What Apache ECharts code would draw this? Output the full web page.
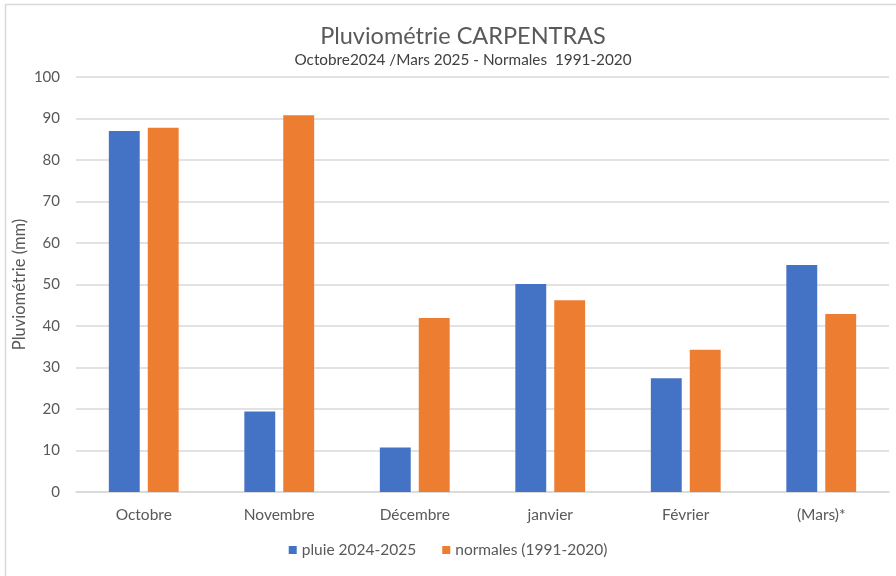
<!DOCTYPE html>
<html><head><meta charset="utf-8">
<script src="https://cdn.jsdelivr.net/npm/echarts@6/dist/echarts.min.js"></script>
<style>html,body{margin:0;padding:0;background:#fff}#c{width:896px;height:576px}</style>
</head><body><div id="c"></div>
<script>
const categories = ['Octobre','Novembre','Décembre','janvier','Février','(Mars)*'];
const pluie = [87.0, 19.4, 10.7, 50.1, 27.4, 54.7];
const normales = [87.8, 90.8, 41.9, 46.2, 34.3, 42.9];
const yTicks = {min: 0, max: 100, interval: 10};
const FONT = 'Lato, "Open Sans", sans-serif';
const chart = echarts.init(document.getElementById('c'));
chart.setOption({
  animation: false,
  backgroundColor: '#fff',
  textStyle: {fontFamily: FONT, color: '#595959'},
  graphic: [{type: 'rect', shape: {x: 5.5, y: 4.5, width: 1000, height: 1000}, style: {fill: 'none', stroke: '#d9d9d9', lineWidth: 1.5}, silent: true}],
  title: {
    text: 'Pluviométrie CARPENTRAS',
    subtext: 'Octobre2024 /Mars 2025 - Normales  1991-2020',
    left: 458, textAlign: 'center', top: 19, itemGap: 5,
    textStyle: {fontFamily: FONT, fontSize: 23.5, fontWeight: 'normal', color: '#595959'},
    subtextStyle: {fontFamily: FONT, fontSize: 15.3, color: '#404040'}
  },
  legend: {
    bottom: 13, left: 'center', itemWidth: 8, itemHeight: 8, itemGap: 26,
    icon: 'rect',
    textStyle: {fontFamily: FONT, fontSize: 15.5, color: '#595959'},
    data: ['pluie 2024-2025', 'normales (1991-2020)']
  },
  grid: {left: 76, right: 7, top: 77, bottom: 84},
  xAxis: {
    type: 'category', data: categories,
    axisLine: {lineStyle: {color: '#d9d9d9', width: 1.5}},
    axisTick: {show: false},
    axisLabel: {fontFamily: FONT, fontSize: 15.5, color: '#595959', margin: 15}
  },
  yAxis: {
    type: 'value', min: yTicks.min, max: yTicks.max, interval: yTicks.interval,
    name: 'Pluviométrie (mm)', nameLocation: 'middle', nameGap: 48, nameMoveOverlap: false,
    nameTextStyle: {fontFamily: FONT, fontSize: 16.5, color: '#595959'},
    axisLine: {show: false}, axisTick: {show: false},
    axisLabel: {fontFamily: FONT, fontSize: 15, color: '#595959', margin: 16},
    splitLine: {lineStyle: {color: '#d9d9d9', width: 1.5}}
  },
  series: [
    {name: 'pluie 2024-2025', type: 'bar', data: pluie, barWidth: '22.8%', barGap: '26%',
     itemStyle: {color: '#4472C4'}},
    {name: 'normales (1991-2020)', type: 'bar', data: normales, barWidth: '22.8%',
     itemStyle: {color: '#ED7D31'}}
  ]
});
</script></body></html>
